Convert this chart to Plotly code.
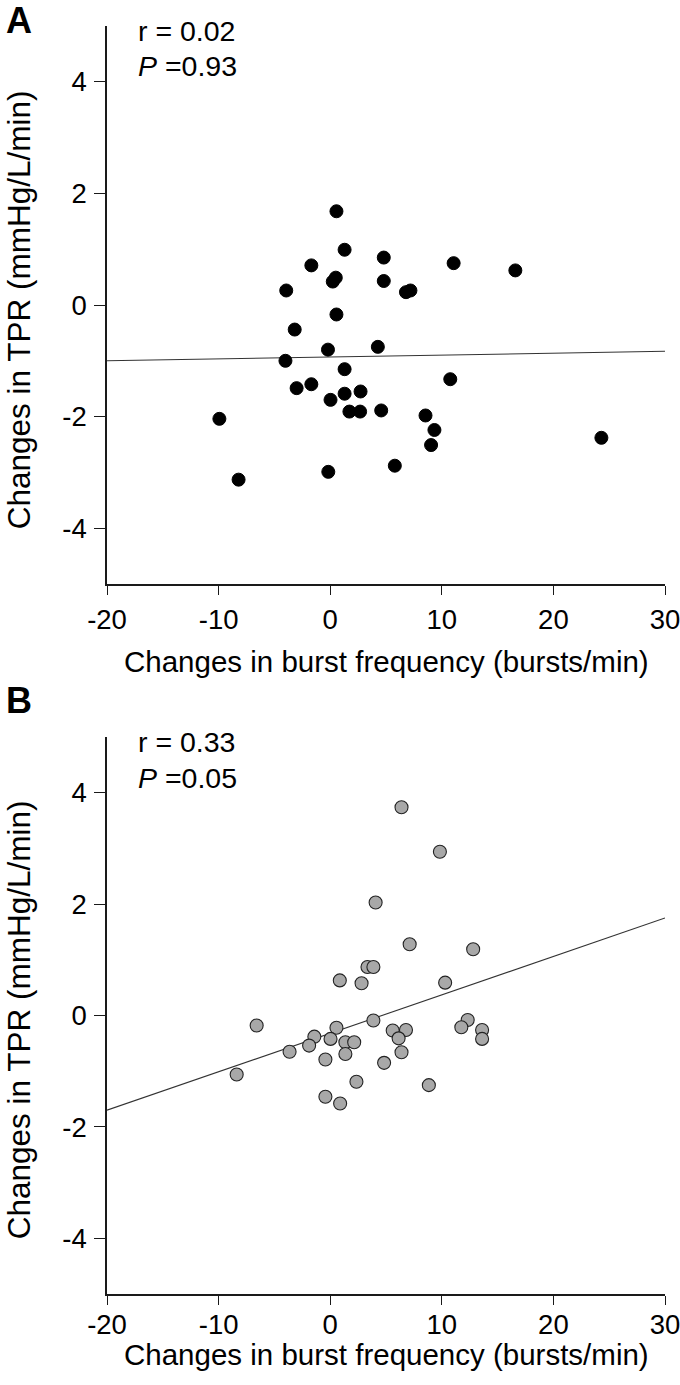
import plotly.graph_objects as go

# ---- data ----
a_x = [0.56, 1.29, 4.80, 11.06, 16.59, -1.69, 0.50, 0.23, 4.80, -3.94, 6.79, 7.19,
       0.56, -3.18, -0.20, 4.27, -4.01, 1.29, 10.76, -3.01, -1.69, 1.29, 2.72, 0.03,
       1.72, 2.68, 4.57, 8.54, -9.93, 9.34, 9.04, 24.30, 5.79, -0.17, -8.21]
a_y = [1.68, 0.99, 0.85, 0.75, 0.62, 0.71, 0.49, 0.42, 0.43, 0.26, 0.23, 0.26,
       -0.17, -0.44, -0.80, -0.75, -1.00, -1.15, -1.33, -1.49, -1.42, -1.59, -1.55, -1.70,
       -1.91, -1.91, -1.89, -1.98, -2.04, -2.24, -2.51, -2.38, -2.88, -2.99, -3.13]

b_x = [6.39, 9.83, 4.07, 7.12, 12.81, 3.34, 3.87, 0.86, 2.81, 10.30, 3.87, -6.59,
       12.32, 11.75, 0.56, 5.60, 6.79, 13.61, -1.42, 0.03, 6.13, 13.61, 1.36, 2.15,
       -1.89, -3.64, 1.36, 6.39, -0.43, 4.83, -8.38, 2.35, 8.84, -0.43, 0.89]
b_y = [3.74, 2.94, 2.03, 1.28, 1.19, 0.87, 0.87, 0.63, 0.58, 0.59, -0.09, -0.18,
       -0.08, -0.21, -0.22, -0.27, -0.26, -0.26, -0.38, -0.42, -0.41, -0.42, -0.48, -0.48,
       -0.54, -0.65, -0.69, -0.66, -0.79, -0.85, -1.06, -1.19, -1.25, -1.46, -1.58]

fit_x = [-20, 30]
a_fit_y = [-1.00, -0.83]
b_fit_y = [-1.70, 1.75]

x_ticks = [-20, -10, 0, 10, 20, 30]
x_tick_labels = ["-20", "-10", "0", "10", "20", "30"]
y_ticks = [-4, -2, 0, 2, 4]
y_tick_labels = ["-4", "-2", "0", "2", "4"]
a_stats = ["r = 0.02", "<i>P</i> =0.93"]
b_stats = ["r = 0.33", "<i>P</i> =0.05"]
x_title = "Changes in burst frequency (bursts/min)"
y_title = "Changes in TPR (mmHg/L/min)"

FONT = "Liberation Sans, Arial, Helvetica, sans-serif"
INK = "#1a1a1a"

# page geometry (the captured page is ~692 px wide and shown at 680)
W, H = 692, 1385
L, R, T, B = 107, 17, 26, 91
PW = W - L - R
PH = H - T - B
SX = W / 680.0


def px_x(px):   # displayed pixel -> paper x
    return (px * SX - L) / PW


def px_y(py):   # displayed pixel -> paper y
    return (H - B - py) / PH


fig = go.Figure()

fig.add_trace(go.Scatter(x=fit_x, y=a_fit_y, mode="lines",
                         line=dict(color="#333333", width=1.1),
                         xaxis="x", yaxis="y", showlegend=False, hoverinfo="skip"))
fig.add_trace(go.Scatter(x=a_x, y=a_y, mode="markers",
                         marker=dict(size=13, color="#000000",
                                     line=dict(color="#000000", width=1)),
                         xaxis="x", yaxis="y", showlegend=False))

fig.add_trace(go.Scatter(x=fit_x, y=b_fit_y, mode="lines",
                         line=dict(color="#333333", width=1.1),
                         xaxis="x2", yaxis="y2", showlegend=False, hoverinfo="skip"))
fig.add_trace(go.Scatter(x=b_x, y=b_y, mode="markers",
                         marker=dict(size=13, color="#a8a8a8",
                                     line=dict(color="#222222", width=1.1)),
                         xaxis="x2", yaxis="y2", showlegend=False))

xcommon = dict(range=[-20, 30], tickvals=x_ticks, ticktext=x_tick_labels,
               ticks="outside", ticklen=9,
               tickwidth=1.3, tickcolor=INK, showline=True, linecolor=INK,
               linewidth=1.5, showgrid=False, zeroline=False,
               tickfont=dict(family=FONT, size=27.5, color="#000"))
ycommon = dict(range=[-5, 5], tickvals=y_ticks, ticktext=y_tick_labels,
               ticks="outside", ticklen=11,
               tickwidth=1.3, tickcolor=INK, showline=True, linecolor=INK,
               linewidth=1.5, showgrid=False, zeroline=False,
               ticklabelstandoff=2,
               tickfont=dict(family=FONT, size=27.5, color="#000"))

fig.update_layout(
    width=W, height=H,
    margin=dict(l=L, r=R, t=T, b=B),
    paper_bgcolor="white", plot_bgcolor="white",
    xaxis=dict(domain=[0, 1], anchor="y", ticklabelstandoff=1, **xcommon),
    yaxis=dict(domain=[px_y(584), 1], anchor="x", **ycommon),
    xaxis2=dict(domain=[0, 1], anchor="y2", ticklabelstandoff=-4, **xcommon),
    yaxis2=dict(domain=[0, px_y(737)], anchor="x2", **ycommon),
)


def ann(text, x, y, size=28, bold=False, xanchor="left", angle=0):
    fig.add_annotation(text=f"<b>{text}</b>" if bold else text,
                       x=x, y=y, xref="paper", yref="paper",
                       xanchor=xanchor, yanchor="middle", showarrow=False,
                       textangle=angle,
                       font=dict(family=FONT, size=size, color="#000"))


# panel letters
ann("A", px_x(2), px_y(20), size=36, bold=True)
ann("B", px_x(2), px_y(700), size=36, bold=True)
# statistics
ann(a_stats[0], px_x(134), px_y(31), size=28.5)
ann(a_stats[1], px_x(134), px_y(65.8), size=28.5)
ann(b_stats[0], px_x(134), px_y(742), size=28.5)
ann(b_stats[1], px_x(134), px_y(777.8), size=28.5)
# axis titles
ann(x_title, 0.5, px_y(661), size=29.5, xanchor="center")
ann(x_title, 0.5, px_y(1354.4), size=29.5, xanchor="center")
ann(y_title, px_x(17.4), px_y(310), size=31.5, xanchor="center", angle=-90)
ann(y_title, px_x(17.4), px_y(1020), size=31.5, xanchor="center", angle=-90)

fig.write_html(
    "out.html",
    config={"displayModeBar": False},
    post_script=("document.documentElement.style.margin='0';"
                 "document.documentElement.style.overflow='hidden';"
                 "document.body.style.margin='0';document.body.style.overflow='hidden';"),
)
